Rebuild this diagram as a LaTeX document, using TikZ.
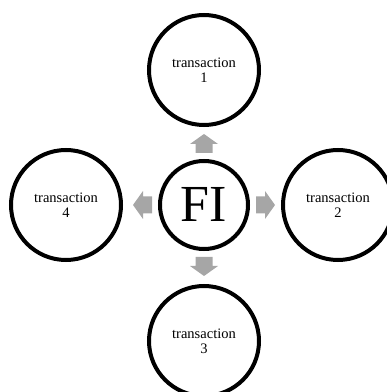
\documentclass[tikz,border=0pt]{standalone}
\usepackage{fontspec}
\setmainfont{Liberation Serif}
\definecolor{arrowgray}{HTML}{A6A6A6}
\begin{document}
\begin{tikzpicture}[x=1pt,y=1pt,
  sat/.style={circle,draw=black,line width=4pt,fill=white,minimum size=110pt,inner sep=0pt,
    align=center,font=\fontsize{14.5}{15}\selectfont},
  hub/.style={circle,draw=black,line width=4pt,fill=white,minimum size=88pt,inner sep=0pt,
    font=\fontsize{52}{52}\selectfont},
  blockarrow/.style={fill=arrowgray}]
\useasboundingbox (0,0) rectangle (387,392);
\clip (0,0) rectangle (387,392);
\node[hub] (fi) at (204,187) {\raisebox{2pt}{FI}};
\node[sat] (t1) at (204,322) {transaction\\1};
\node[sat] (t2) at (338,187) {transaction\\2};
\node[sat] (t3) at (204,51) {transaction\\3};
\node[sat] (t4) at (66,187) {transaction\\4};
\foreach \a in {0,90,180,270}{
  \fill[blockarrow,shift={(fi.center)},rotate=\a]
    (52,-8.5) -- (61,-8.5) -- (61,-14) -- (71,0) -- (61,14) -- (61,8.5) -- (52,8.5) -- cycle;
}
\end{tikzpicture}
\end{document}
